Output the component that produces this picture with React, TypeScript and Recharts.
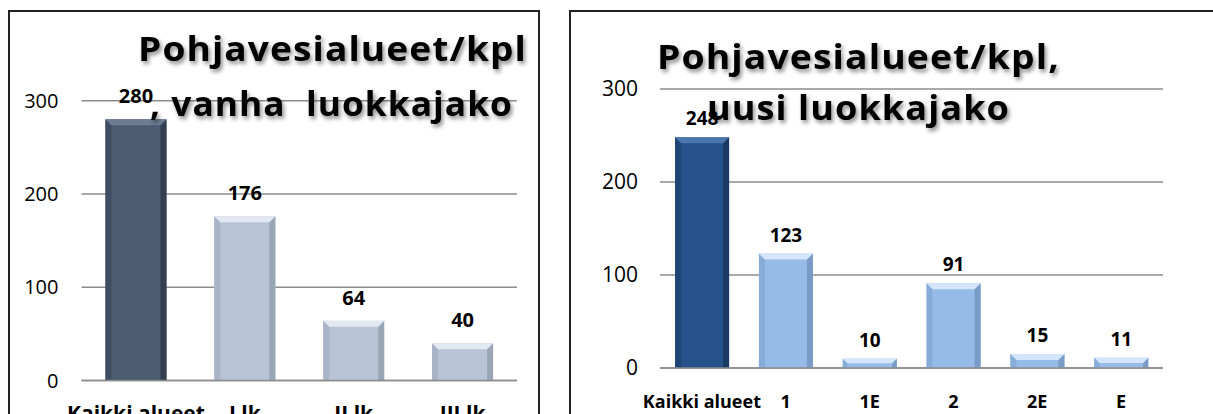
import React from 'react';
import { BarChart, Bar, XAxis, YAxis, CartesianGrid, LabelList } from 'recharts';

// vanha luokkajako
const oldCategories = ['Kaikki alueet', 'I lk', 'II lk', 'III lk'];
const oldValues = [280, 176, 64, 40];

// uusi luokkajako
const newCategories = ['Kaikki alueet', '1', '1E', '2', '2E', 'E'];
const newValues = [248, 123, 10, 91, 15, 11];

const yTicks = [0, 100, 200, 300];

const FONT = "'Open Sans', sans-serif";
const GRID = '#8c8c8c';

type Palette = { base: string; top: string; side: string; edge: string };

const oldColors: Palette[] = [
  { base: '#4a5b72', top: '#6d7c92', side: '#3e4d62', edge: '#34404f' },
  { base: '#b8c3d5', top: '#e3e9f2', side: '#a9b4c6', edge: '#9aa5b6' },
];
const newColors: Palette[] = [
  { base: '#26518a', top: '#4d76ad', side: '#1f4577', edge: '#1a3a63' },
  { base: '#97bbe8', top: '#d3e5fa', side: '#88acda', edge: '#7a9bc6' },
];

// bevelled bar like the office 3d-ish style
const makeShape = (colors: Palette[]) => (props: any) => {
  const { x, y, width, height, index } = props;
  if (!height || height <= 0) return <g />;
  const c = index === 0 ? colors[0] : colors[1];
  const b = Math.min(6, height / 2, width / 4);
  return (
    <g>
      <rect x={x} y={y} width={width} height={height} fill={c.base} />
      <polygon
        points={`${x},${y} ${x + b},${y + b} ${x + b},${y + height} ${x},${y + height}`}
        fill={c.side}
      />
      <polygon
        points={`${x + width},${y} ${x + width - b},${y + b} ${x + width - b},${y + height} ${x + width},${y + height}`}
        fill={c.edge}
      />
      <polygon
        points={`${x},${y} ${x + width},${y} ${x + width - b},${y + b} ${x + b},${y + b}`}
        fill={c.top}
      />
    </g>
  );
};

const oldData = oldCategories.map((name, i) => ({ name, value: oldValues[i] }));
const newData = newCategories.map((name, i) => ({ name, value: newValues[i] }));

const boxStyle: React.CSSProperties = {
  position: 'absolute',
  border: '2px solid #222',
  boxSizing: 'border-box',
  height: 500,
};

export default function App() {
  return (
    <div
      style={{
        position: 'absolute',
        left: 0,
        top: 0,
        width: 1213,
        height: 414,
        overflow: 'hidden',
        background: '#fff',
        fontFamily: FONT,
      }}
    >
      <div style={{ ...boxStyle, left: 8, top: 10, width: 532 }} />
      <div style={{ ...boxStyle, left: 569, top: 10, width: 700 }} />

      <div style={{ position: 'absolute', left: 0, top: 0 }}>
        <BarChart
          width={540}
          height={414}
          data={oldData}
          margin={{ top: 100.7, right: 23, bottom: 3.5, left: 21.5 }}
          barCategoryGap="22%"
        >
          <CartesianGrid vertical={false} stroke={GRID} strokeWidth={1.5} />
          <XAxis
            dataKey="name"
            height={30}
            axisLine={{ stroke: GRID, strokeWidth: 1.5 }}
            tickLine={false}
            tickMargin={20}
            interval={0}
            tick={{ fill: '#000', fontSize: 21, fontWeight: 700, fontFamily: FONT }}
          />
          <YAxis
            width={60}
            domain={[0, 300]}
            ticks={yTicks}
            axisLine={false}
            tickLine={false}
            tickMargin={17}
            tick={{ fill: '#000', fontSize: 20, fontFamily: FONT }}
          />
          <Bar dataKey="value" isAnimationActive={false} shape={makeShape(oldColors)}>
            <LabelList
              dataKey="value"
              position="top"
              offset={16}
              style={{ fill: '#000', fontSize: 20, fontWeight: 700, fontFamily: FONT }}
            />
          </Bar>
        </BarChart>
      </div>

      <div style={{ position: 'absolute', left: 570, top: 0 }}>
        <BarChart
          width={643}
          height={414}
          data={newData}
          margin={{ top: 89, right: 50, bottom: 6, left: 30 }}
          barCategoryGap="18%"
        >
          <CartesianGrid vertical={false} stroke={GRID} strokeWidth={1.5} />
          <XAxis
            dataKey="name"
            height={40}
            axisLine={{ stroke: GRID, strokeWidth: 1.5 }}
            tickLine={false}
            tickMargin={21}
            interval={0}
            tick={{ fill: '#000', fontSize: 18, fontWeight: 700, fontFamily: FONT }}
          />
          <YAxis
            width={60}
            domain={[0, 300]}
            ticks={yTicks}
            axisLine={false}
            tickLine={false}
            tickMargin={16}
            tick={{ fill: '#000', fontSize: 21, fontFamily: FONT }}
          />
          <Bar dataKey="value" isAnimationActive={false} shape={makeShape(newColors)}>
            <LabelList
              dataKey="value"
              position="top"
              offset={12}
              style={{ fill: '#000', fontSize: 19, fontWeight: 700, fontFamily: FONT }}
            />
          </Bar>
        </BarChart>
      </div>

      {/* titles sit on top of the plots, as in the original */}
      <svg
        width={1213}
        height={414}
        style={{ position: 'absolute', left: 0, top: 0, pointerEvents: 'none' }}
      >
        <defs>
          <filter id="shadow" x="-10%" y="-30%" width="120%" height="170%">
            <feDropShadow dx="2" dy="3" stdDeviation="2" floodColor="#000" floodOpacity="0.45" />
          </filter>
        </defs>
        <g
          filter="url(#shadow)"
          fontFamily={FONT}
          fontWeight={700}
          fontSize={34}
          fill="#000"
          style={{ whiteSpace: 'pre', letterSpacing: '1px' }}
        >
          <text x={138} y={61} textLength={389} lengthAdjust="spacingAndGlyphs">Pohjavesialueet/kpl</text>
          <text x={150} y={116} textLength={363} lengthAdjust="spacingAndGlyphs" xmlSpace="preserve">{', vanha  luokkajako'}</text>
          <text x={657} y={69} textLength={403} lengthAdjust="spacingAndGlyphs">Pohjavesialueet/kpl,</text>
          <text x={707} y={120} textLength={303} lengthAdjust="spacingAndGlyphs">uusi luokkajako</text>
        </g>
      </svg>
    </div>
  );
}
